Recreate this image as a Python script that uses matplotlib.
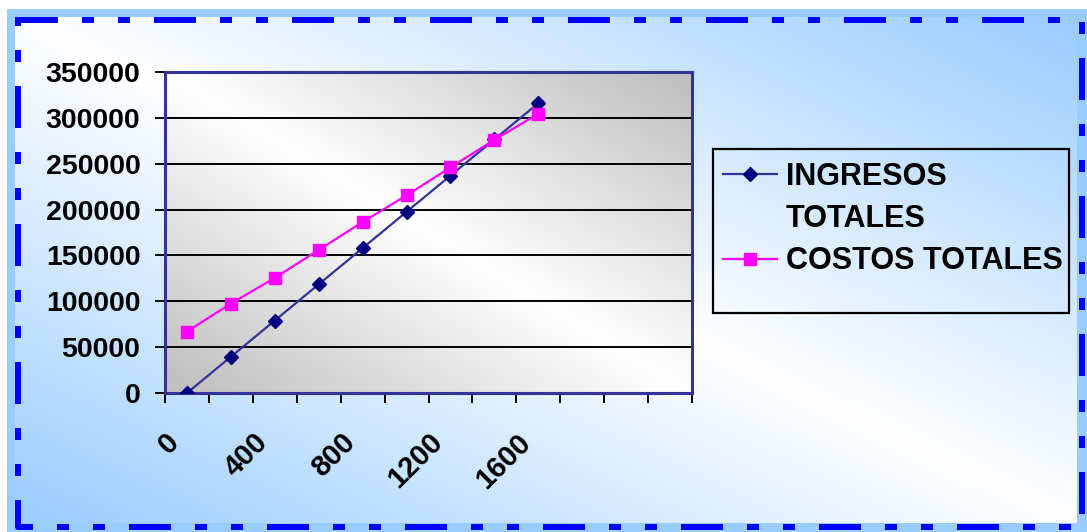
import numpy as np
import matplotlib
matplotlib.use('Agg')
import matplotlib.pyplot as plt
from matplotlib.lines import Line2D
from matplotlib.patches import Rectangle
from matplotlib.transforms import offset_copy

# ---------------- data ----------------
categories = [0, 200, 400, 600, 800, 1000, 1200, 1400, 1600]
n_slots = 12  # category axis has 12 slots, 9 filled
ingresos = [0, 39500, 79000, 118500, 158000, 197500, 237000, 276500, 316000]
costos = [67000, 97500, 125500, 156000, 186500, 215500, 246000, 276000, 304500]
y_ticks = [0, 50000, 100000, 150000, 200000, 250000, 300000, 350000]
label_every = 2
series_names = ["INGRESOS", "TOTALES", "COSTOS TOTALES"]

plt.rcParams['font.family'] = ['Liberation Sans', 'DejaVu Sans']
plt.rcParams['font.weight'] = 'bold'
plt.rcParams['lines.scale_dashes'] = False

W, H = 1087, 532
fig = plt.figure(figsize=(W / 100, H / 100), dpi=100)
fig.patch.set_facecolor('white')

# ---------------- background / frame ----------------
bg = fig.add_axes([0, 0, 1, 1], zorder=-10)
bg.axis('off')
bg.add_patch(Rectangle((7, 9), W - 7, H - 9, facecolor='#99ccff', lw=0, zorder=0))
gx0, gy0, gx1, gy1 = 15, 17, 1077, 523
u = np.linspace(0, 1, 500)
v = np.linspace(0, 1, 250)
U, V = np.meshgrid(u, v)
T = np.clip(np.abs(U - V), 0, 1)[..., None]
white = np.array([1.0, 1.0, 1.0])
blue = np.array([0x99, 0xcc, 0xff]) / 255
bg.imshow(white * (1 - T) + blue * T, extent=(gx0, gx1, gy1, gy0),
          aspect='auto', interpolation='bilinear', zorder=1)
px = [16, 1081.5, 1081.5, 18, 18]
py = [20, 20, 527, 527, 17]
bg.add_line(Line2D(px, py, color='#0000ff', lw=4.32, solid_capstyle='butt',
                   dash_capstyle='butt',
                   dashes=(30.24, 17.28, 8.64, 17.28, 8.64, 17.28), zorder=3))
bg.add_patch(Rectangle((713, 149), 356, 164, facecolor='none', edgecolor='black',
                       lw=1.6, zorder=4))
bg.set_xlim(0, W)
bg.set_ylim(H, 0)

# ---------------- main axes ----------------
ax = fig.add_axes([165 / W, 1 - 393 / H, 527 / W, 321 / H], zorder=1)
ax.patch.set_visible(False)
xlim = (-0.5, n_slots - 0.5)
ylim = (y_ticks[0], y_ticks[-1])

Tp = np.clip(np.abs(U - V) * 1.05, 0, 1)[..., None]
gray = np.array([0xc0, 0xc0, 0xc0]) / 255
ax.imshow(white * (1 - Tp) + gray * Tp, extent=(xlim[0], xlim[1], ylim[0], ylim[1]),
          aspect='auto', interpolation='bilinear', zorder=0)

x = np.arange(len(categories))
l1, = ax.plot(x, ingresos, color='#333399', lw=1.6, marker='D', markersize=6.8,
              markerfacecolor='#000080', markeredgecolor='#000080', zorder=3)
l2, = ax.plot(x, costos, color='#ff00ff', lw=1.6, marker='s', markersize=8.6,
              markerfacecolor='#ff00ff', markeredgecolor='#ff00ff', zorder=3)

ax.set_xlim(*xlim)
ax.set_ylim(*ylim)
ax.set_yticks(y_ticks)
ax.set_yticklabels([str(t) for t in y_ticks])
ax.yaxis.grid(True, color='black', lw=1.4)
ax.set_xticks(np.arange(xlim[0], xlim[1] + 0.01, 1))
ax.set_xticklabels([])
ax.tick_params(axis='both', direction='out', length=7.2, width=1.4, color='black',
               labelsize=20.5, pad=10.5)
for s in ax.spines.values():
    s.set_color('#333399')
    s.set_linewidth(2.2)

trans = offset_copy(ax.get_xaxis_transform(), fig=fig, x=-8.6, y=-32.4, units='points')
for i, c in enumerate(categories):
    if i % label_every == 0:
        ax.text(i, 0, str(c), transform=trans, rotation=45, rotation_mode='anchor',
                ha='right', va='center', fontsize=21, fontweight='bold')

# ---------------- legend ----------------
blank = Line2D([], [], color='none')
leg = fig.legend([l1, blank, l2], series_names, loc='upper left',
                 bbox_to_anchor=(723 / W, 1 - 162 / H), borderaxespad=0, borderpad=0,
                 frameon=False, fontsize=22, handlelength=1.77, handletextpad=0.29,
                 labelspacing=0.4)

fig.savefig('out.png', dpi=100)
